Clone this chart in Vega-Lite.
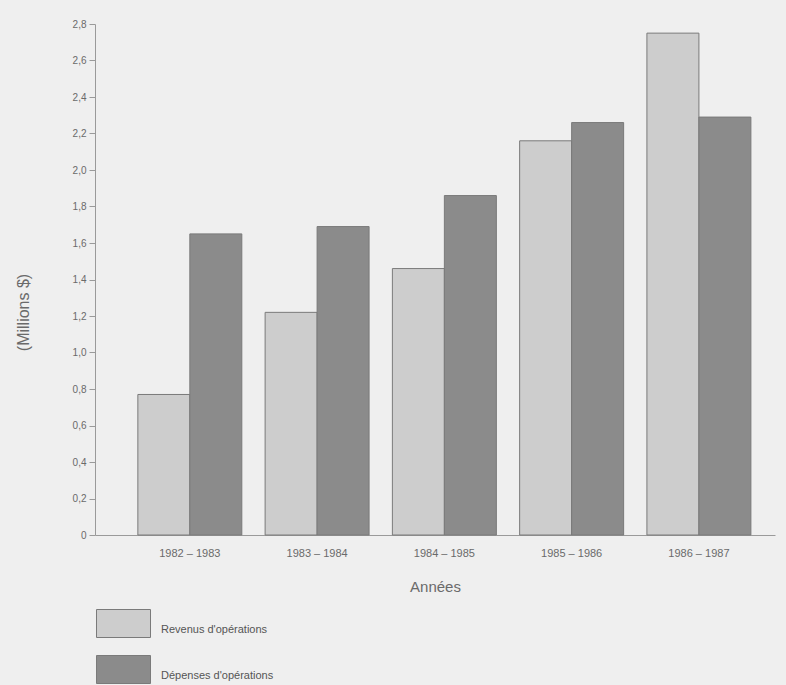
{
  "$schema": "https://vega.github.io/schema/vega-lite/v6.json",
  "autosize": "none",
  "width": 680,
  "height": 511,
  "padding": {"left": 95, "top": 24, "right": 11, "bottom": 150},
  "background": "#efefef",
  "config": {
    "font": "Liberation Sans",
    "view": {"stroke": null},
    "axis": {"domainColor": "#9a9a9a", "tickColor": "#9a9a9a", "labelColor": "#6a6a6a", "titleColor": "#6a6a6a", "titleFontWeight": "normal"}
  },
  "data": {
    "values": [
      {"annee": "1982 – 1983", "serie": "Revenus d'opérations", "valeur": 0.77},
      {"annee": "1982 – 1983", "serie": "Dépenses d'opérations", "valeur": 1.65},
      {"annee": "1983 – 1984", "serie": "Revenus d'opérations", "valeur": 1.22},
      {"annee": "1983 – 1984", "serie": "Dépenses d'opérations", "valeur": 1.69},
      {"annee": "1984 – 1985", "serie": "Revenus d'opérations", "valeur": 1.46},
      {"annee": "1984 – 1985", "serie": "Dépenses d'opérations", "valeur": 1.86},
      {"annee": "1985 – 1986", "serie": "Revenus d'opérations", "valeur": 2.16},
      {"annee": "1985 – 1986", "serie": "Dépenses d'opérations", "valeur": 2.26},
      {"annee": "1986 – 1987", "serie": "Revenus d'opérations", "valeur": 2.75},
      {"annee": "1986 – 1987", "serie": "Dépenses d'opérations", "valeur": 2.29}
    ]
  },
  "mark": {"type": "bar", "stroke": "#7a7a7a", "strokeWidth": 1},
  "encoding": {
    "x": {
      "field": "annee", "type": "nominal", "sort": null,
      "scale": {"paddingInner": 0.183, "paddingOuter": 0.263, "align": 0.64},
      "axis": {"title": "Années", "titleFontSize": 15, "titlePadding": 21, "labelFontSize": 11, "labelPadding": 12, "ticks": false, "labelAngle": 0}
    },
    "xOffset": {"field": "serie", "type": "nominal", "sort": ["Revenus d'opérations", "Dépenses d'opérations"], "scale": {"paddingInner": 0, "paddingOuter": 0}},
    "y": {
      "field": "valeur", "type": "quantitative",
      "scale": {"domain": [0, 2.8], "nice": false},
      "axis": {
        "title": "(Millions $)", "titleFontSize": 16, "titleX": -72, "titleY": 288, "titleAlign": "center", "titleBaseline": "middle",
        "values": [0, 0.2, 0.4, 0.6, 0.8, 1.0, 1.2, 1.4, 1.6, 1.8, 2.0, 2.2, 2.4, 2.6, 2.8],
        "labelExpr": "datum.value == 0 ? '0' : replace(format(datum.value, '.1f'), '.', ',')",
        "labelFontSize": 10, "tickSize": 6, "labelPadding": 3, "grid": false
      }
    },
    "fill": {
      "field": "serie", "type": "nominal", "sort": ["Revenus d'opérations", "Dépenses d'opérations"],
      "scale": {"range": ["#cdcdcd", "#8b8b8b"]},
      "legend": {
        "title": null, "orient": "none", "legendX": 8, "legendY": 579, "direction": "vertical",
        "symbolType": "M-1.35,-0.7H1.35V0.7H-1.35Z", "symbolSize": 1600,
        "symbolStrokeColor": "#7a7a7a", "symbolStrokeWidth": 1, "symbolOpacity": 1,
        "labelFontSize": 11, "labelColor": "#555555", "labelOffset": 17, "rowPadding": 9, "labelBaseline": "top"
      }
    }
  }
}
